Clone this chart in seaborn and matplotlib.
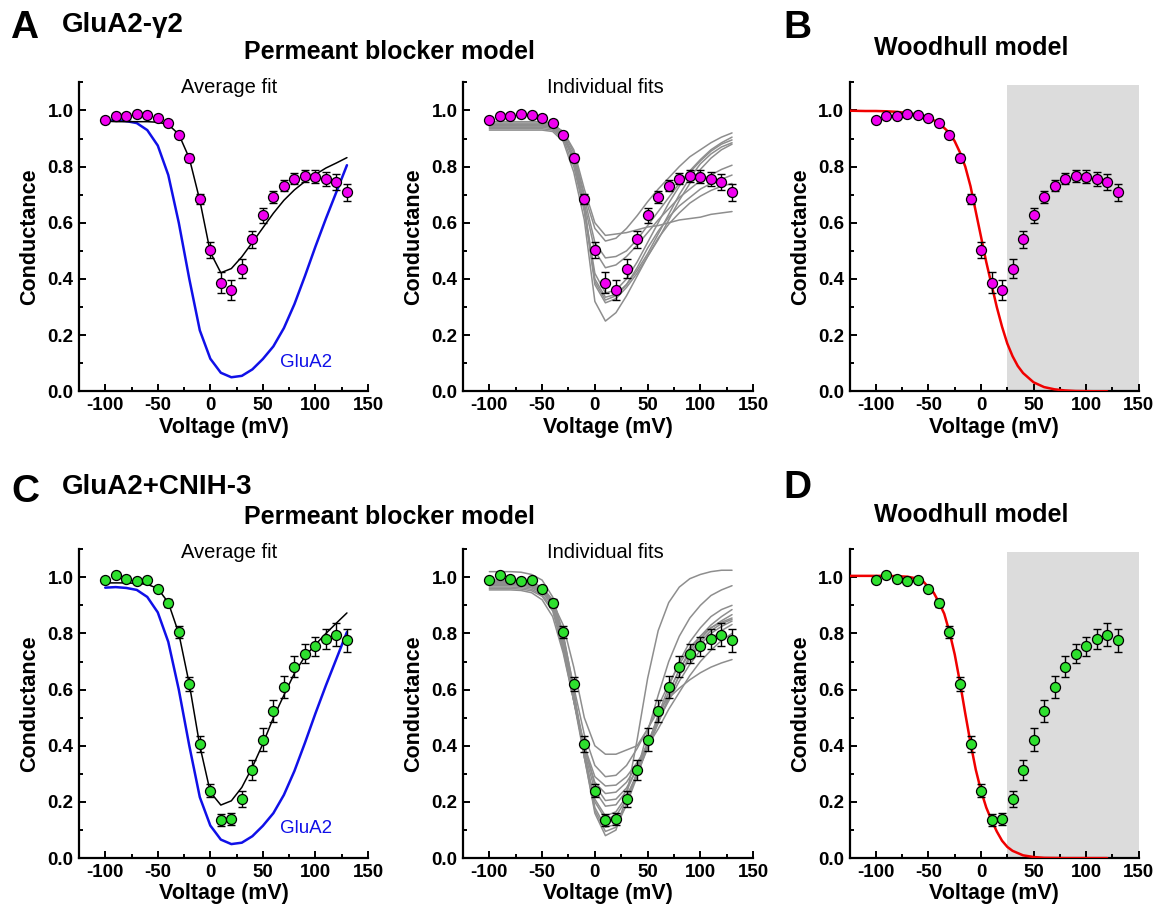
import numpy as np
import pandas as pd
import matplotlib
matplotlib.use("Agg")
import matplotlib.pyplot as plt
from matplotlib.ticker import MultipleLocator, FormatStrFormatter
import seaborn as sns

# ---- data ---------------------------------------------------------------
volts = [-100, -90, -80, -70, -60, -50, -40, -30, -20, -10, 0, 10,
         20, 30, 40, 50, 60, 70, 80, 90, 100, 110, 120, 130]

# GluA2-gamma2 (panels A, B)
g2_mean = [0.965, 0.980, 0.980, 0.986, 0.983, 0.974, 0.956, 0.914, 0.831, 0.685, 0.503, 0.387,
           0.360, 0.437, 0.541, 0.626, 0.691, 0.732, 0.757, 0.766, 0.764, 0.756, 0.745, 0.709]
g2_err = [0.006, 0.008, 0.008, 0.008, 0.008, 0.008, 0.010, 0.010, 0.013, 0.018, 0.030, 0.036,
          0.036, 0.035, 0.030, 0.025, 0.022, 0.020, 0.020, 0.022, 0.024, 0.026, 0.028, 0.030]
g2_avg_fit = [0.962, 0.960, 0.960, 0.960, 0.960, 0.958, 0.950, 0.915, 0.830, 0.680, 0.495, 0.422,
              0.437, 0.479, 0.530, 0.582, 0.634, 0.680, 0.717, 0.747, 0.772, 0.795, 0.813, 0.832]

# GluA2+CNIH-3 (panels C, D)
cn3_mean = [0.990, 1.008, 0.995, 0.986, 0.989, 0.959, 0.909, 0.804, 0.620, 0.406, 0.240, 0.136,
            0.139, 0.210, 0.314, 0.422, 0.524, 0.609, 0.682, 0.728, 0.754, 0.780, 0.796, 0.775]
cn3_err = [0.008, 0.008, 0.008, 0.008, 0.008, 0.010, 0.015, 0.022, 0.025, 0.028, 0.024, 0.022,
           0.022, 0.028, 0.035, 0.040, 0.040, 0.040, 0.038, 0.035, 0.035, 0.035, 0.040, 0.040]
cn3_avg_fit = [0.980, 0.980, 0.980, 0.978, 0.975, 0.960, 0.910, 0.800, 0.620, 0.400, 0.235, 0.189,
               0.204, 0.252, 0.324, 0.407, 0.500, 0.580, 0.658, 0.718, 0.760, 0.800, 0.837, 0.873]

# GluA2 alone (blue reference curve)
glua2_curve = [0.963, 0.965, 0.962, 0.955, 0.930, 0.875, 0.770, 0.600, 0.400, 0.217, 0.116, 0.066,
               0.050, 0.055, 0.078, 0.115, 0.160, 0.225, 0.310, 0.410, 0.515, 0.615, 0.710, 0.805]

# individual permeant-blocker fits, GluA2-gamma2
g2_fits = [
    [0.950, 0.950, 0.950, 0.950, 0.950, 0.950, 0.945, 0.925, 0.860, 0.720, 0.600, 0.555,
     0.560, 0.565, 0.575, 0.585, 0.590, 0.600, 0.610, 0.615, 0.620, 0.630, 0.635, 0.640],
    [0.955, 0.955, 0.955, 0.955, 0.955, 0.955, 0.950, 0.925, 0.850, 0.700, 0.580, 0.535,
     0.545, 0.580, 0.625, 0.675, 0.720, 0.760, 0.800, 0.835, 0.860, 0.885, 0.905, 0.920],
    [0.945, 0.945, 0.945, 0.945, 0.945, 0.945, 0.940, 0.915, 0.840, 0.690, 0.530, 0.475,
     0.480, 0.500, 0.540, 0.590, 0.640, 0.690, 0.740, 0.785, 0.825, 0.860, 0.885, 0.905],
    [0.940, 0.940, 0.940, 0.940, 0.940, 0.940, 0.935, 0.905, 0.830, 0.670, 0.500, 0.440,
     0.450, 0.480, 0.520, 0.565, 0.610, 0.650, 0.690, 0.720, 0.750, 0.770, 0.790, 0.805],
    [0.960, 0.960, 0.960, 0.960, 0.960, 0.960, 0.955, 0.920, 0.820, 0.650, 0.420, 0.350,
     0.360, 0.400, 0.460, 0.530, 0.600, 0.670, 0.730, 0.780, 0.820, 0.855, 0.880, 0.895],
    [0.935, 0.935, 0.935, 0.935, 0.935, 0.935, 0.930, 0.900, 0.800, 0.640, 0.400, 0.335,
     0.345, 0.380, 0.430, 0.490, 0.560, 0.630, 0.700, 0.760, 0.810, 0.845, 0.870, 0.885],
    [0.945, 0.945, 0.945, 0.945, 0.945, 0.945, 0.940, 0.910, 0.820, 0.660, 0.390, 0.325,
     0.340, 0.380, 0.440, 0.510, 0.570, 0.620, 0.660, 0.690, 0.720, 0.740, 0.755, 0.770],
    [0.950, 0.950, 0.950, 0.950, 0.950, 0.950, 0.945, 0.915, 0.830, 0.650, 0.380, 0.315,
     0.330, 0.370, 0.420, 0.480, 0.540, 0.610, 0.680, 0.740, 0.790, 0.830, 0.860, 0.880],
    [0.930, 0.930, 0.930, 0.930, 0.930, 0.930, 0.925, 0.890, 0.780, 0.610, 0.320, 0.250,
     0.280, 0.340, 0.410, 0.480, 0.545, 0.595, 0.635, 0.670, 0.695, 0.715, 0.730, 0.740],
]

# individual permeant-blocker fits, GluA2+CNIH-3
cn3_fits = [
    [0.970, 0.970, 0.970, 0.968, 0.962, 0.945, 0.910, 0.830, 0.680, 0.500, 0.400, 0.370,
     0.370, 0.385, 0.400, 0.460, 0.525, 0.570, 0.605, 0.635, 0.660, 0.680, 0.695, 0.707],
    [1.020, 1.020, 1.020, 1.018, 1.010, 0.990, 0.930, 0.800, 0.600, 0.360, 0.160, 0.080,
     0.100, 0.220, 0.420, 0.640, 0.810, 0.910, 0.965, 0.995, 1.010, 1.020, 1.025, 1.025],
    [0.990, 0.990, 0.990, 0.988, 0.982, 0.965, 0.920, 0.790, 0.590, 0.360, 0.170, 0.095,
     0.110, 0.190, 0.310, 0.450, 0.580, 0.700, 0.790, 0.855, 0.900, 0.935, 0.955, 0.970],
    [0.985, 0.985, 0.985, 0.983, 0.977, 0.960, 0.915, 0.780, 0.580, 0.370, 0.180, 0.110,
     0.120, 0.190, 0.290, 0.400, 0.510, 0.610, 0.700, 0.770, 0.820, 0.860, 0.885, 0.900],
    [0.980, 0.980, 0.980, 0.978, 0.972, 0.955, 0.910, 0.770, 0.570, 0.370, 0.200, 0.140,
     0.150, 0.210, 0.300, 0.400, 0.500, 0.590, 0.670, 0.740, 0.790, 0.830, 0.860, 0.885],
    [0.975, 0.975, 0.975, 0.973, 0.967, 0.948, 0.900, 0.760, 0.560, 0.360, 0.210, 0.150,
     0.165, 0.220, 0.300, 0.390, 0.480, 0.570, 0.650, 0.720, 0.770, 0.810, 0.835, 0.850],
    [0.965, 0.965, 0.965, 0.963, 0.957, 0.938, 0.890, 0.750, 0.560, 0.380, 0.240, 0.185,
     0.190, 0.240, 0.320, 0.410, 0.500, 0.590, 0.670, 0.730, 0.780, 0.820, 0.845, 0.867],
    [0.975, 0.975, 0.975, 0.973, 0.967, 0.948, 0.900, 0.770, 0.580, 0.400, 0.260, 0.205,
     0.210, 0.250, 0.320, 0.400, 0.490, 0.570, 0.650, 0.710, 0.760, 0.800, 0.825, 0.844],
    [0.960, 0.960, 0.960, 0.958, 0.952, 0.932, 0.880, 0.740, 0.560, 0.390, 0.270, 0.230,
     0.235, 0.270, 0.330, 0.410, 0.490, 0.560, 0.630, 0.690, 0.740, 0.780, 0.810, 0.832],
    [0.955, 0.955, 0.955, 0.953, 0.945, 0.920, 0.860, 0.730, 0.560, 0.400, 0.290, 0.257,
     0.260, 0.290, 0.340, 0.400, 0.460, 0.530, 0.590, 0.650, 0.700, 0.740, 0.775, 0.800],
    [0.980, 0.980, 0.980, 0.978, 0.972, 0.955, 0.910, 0.790, 0.610, 0.440, 0.330, 0.290,
     0.295, 0.330, 0.390, 0.460, 0.540, 0.620, 0.690, 0.750, 0.790, 0.820, 0.840, 0.855],
]

# Woodhull fits (red)
wood_v_b = [-125, -110, -100, -90, -80, -70, -60, -50, -40, -30, -25, -20, -15, -10, -5, 0,
            5, 10, 15, 20, 25, 30, 35, 40, 50, 60, 70, 80, 90, 100, 110, 120]
wood_g_b = [0.999, 0.998, 0.998, 0.997, 0.995, 0.991, 0.985, 0.975, 0.955, 0.920, 0.890, 0.850,
            0.800, 0.730, 0.640, 0.550, 0.460, 0.380, 0.300, 0.230, 0.170, 0.125, 0.090, 0.065,
            0.032, 0.015, 0.007, 0.003, 0.001, 0.0005, 0.0, 0.0]
wood_v_d = [-125, -110, -100, -90, -80, -70, -60, -55, -50, -45, -40, -35, -30, -25, -20, -15,
            -10, -5, 0, 5, 10, 15, 20, 25, 30, 40, 50, 60, 80, 100, 120]
wood_g_d = [1.005, 1.005, 1.005, 1.005, 1.004, 1.002, 0.995, 0.985, 0.965, 0.945, 0.910, 0.870,
            0.805, 0.725, 0.625, 0.515, 0.410, 0.315, 0.240, 0.180, 0.135, 0.095, 0.062, 0.040,
            0.026, 0.010, 0.004, 0.001, 0.0, 0.0, 0.0]
shade_start = 25  # mV, grey region in Woodhull panels

MAGENTA = "#f000f0"
GREEN = "#2ee02e"
BLUE = "#1010e8"
RED = "#f00000"
GREY = "#8e8e8e"

sns.set_theme(style="ticks")
plt.rcParams["font.family"] = ["Liberation Sans", "DejaVu Sans"]
plt.rcParams["font.weight"] = "bold"
plt.rcParams["axes.unicode_minus"] = False
plt.rcParams["text.color"] = "black"
plt.rcParams["axes.labelcolor"] = "black"
plt.rcParams["xtick.color"] = "black"
plt.rcParams["ytick.color"] = "black"


def style_axis(ax):
    ax.set_xlim(-125, 150)
    ax.set_ylim(0, 1.1)
    ax.xaxis.set_major_locator(MultipleLocator(50))
    ax.xaxis.set_minor_locator(MultipleLocator(25))
    ax.yaxis.set_major_locator(MultipleLocator(0.2))
    ax.yaxis.set_minor_locator(MultipleLocator(0.1))
    ax.yaxis.set_major_formatter(FormatStrFormatter("%.1f"))
    ax.set_yticks([0, 0.2, 0.4, 0.6, 0.8, 1.0])
    ax.tick_params(which="both", direction="in", width=1.4, colors="black")
    ax.tick_params(which="major", length=5, labelsize=13.5, pad=4)
    ax.tick_params(which="minor", length=3)
    for lab in ax.get_xticklabels() + ax.get_yticklabels():
        lab.set_fontweight("bold")
    sns.despine(ax=ax)
    for sp in ("left", "bottom"):
        ax.spines[sp].set_linewidth(1.6)
        ax.spines[sp].set_color("black")
    ax.set_xlabel("Voltage (mV)", fontsize=15.5, fontweight="bold", labelpad=2)
    ax.set_ylabel("Conductance", fontsize=15.5, fontweight="bold", labelpad=5)


def draw_points(ax, mean, err, color):
    ax.errorbar(volts, mean, yerr=err, fmt="none", ecolor="black", elinewidth=1.0,
                capsize=3, capthick=1.0, zorder=4)
    sns.scatterplot(x=volts, y=mean, ax=ax, color=color, edgecolor="black",
                    linewidth=0.9, s=52, zorder=5)


def fits_frame(fits):
    rows = []
    for i, f in enumerate(fits):
        for v, g in zip(volts, f):
            rows.append({"fit": i, "V": v, "G": g})
    return pd.DataFrame(rows)


fig = plt.figure(figsize=(11.56, 9.10), dpi=100)

rows = [
    (0.5700, g2_mean, g2_err, g2_avg_fit, g2_fits, MAGENTA, wood_v_b, wood_g_b),
    (0.0570, cn3_mean, cn3_err, cn3_avg_fit, cn3_fits, GREEN, wood_v_d, wood_g_d),
]

for bottom, mean, err, avg_fit, fits, col, wv, wg in rows:
    h = 0.3395
    ax1 = fig.add_axes([0.0683, bottom, 0.250, h])
    ax2 = fig.add_axes([0.4005, bottom, 0.251, h])
    ax3 = fig.add_axes([0.7350, bottom, 0.250, h])

    # average fit
    sns.lineplot(x=volts, y=glua2_curve, ax=ax1, color=BLUE, linewidth=1.8, zorder=2)
    sns.lineplot(x=volts, y=avg_fit, ax=ax1, color="black", linewidth=1.1, zorder=3)
    draw_points(ax1, mean, err, col)
    ax1.text(66, 0.104, "GluA2", color=BLUE, fontsize=13.5, fontweight="normal", va="center")

    # individual fits
    sns.lineplot(data=fits_frame(fits), x="V", y="G", units="fit", estimator=None,
                 ax=ax2, color=GREY, linewidth=1.1, zorder=2)
    draw_points(ax2, mean, err, col)

    # Woodhull
    ax3.axvspan(shade_start, 150, ymin=0, ymax=1.09 / 1.1, color="#dcdcdc", lw=0, zorder=0)
    sns.lineplot(x=wv, y=wg, ax=ax3, color=RED, linewidth=1.8, zorder=3)
    draw_points(ax3, mean, err, col)

    for ax in (ax1, ax2, ax3):
        style_axis(ax)

# panel annotations
fig.text(0.009, 0.969, "A", fontsize=28, fontweight="bold", va="center")
fig.text(0.0536, 0.9725, "GluA2-\u03b32", fontsize=20, fontweight="bold", va="center")
fig.text(0.337, 0.943, "Permeant blocker model", fontsize=18, fontweight="bold",
         ha="center", va="center")
fig.text(0.198, 0.904, "Average fit", fontsize=14.5, fontweight="normal", ha="center", va="center")
fig.text(0.524, 0.904, "Individual fits", fontsize=14.5, fontweight="normal", ha="center", va="center")
fig.text(0.678, 0.969, "B", fontsize=28, fontweight="bold", va="center")
fig.text(0.840, 0.947, "Woodhull model", fontsize=18, fontweight="bold", ha="center", va="center")

fig.text(0.010, 0.459, "C", fontsize=28, fontweight="bold", va="center")
fig.text(0.0536, 0.465, "GluA2+CNIH-3", fontsize=20, fontweight="bold", va="center")
fig.text(0.337, 0.432, "Permeant blocker model", fontsize=18, fontweight="bold",
         ha="center", va="center")
fig.text(0.198, 0.393, "Average fit", fontsize=14.5, fontweight="normal", ha="center", va="center")
fig.text(0.524, 0.393, "Individual fits", fontsize=14.5, fontweight="normal", ha="center", va="center")
fig.text(0.678, 0.464, "D", fontsize=28, fontweight="bold", va="center")
fig.text(0.840, 0.434, "Woodhull model", fontsize=18, fontweight="bold", ha="center", va="center")

fig.savefig("out.png", dpi=100)
